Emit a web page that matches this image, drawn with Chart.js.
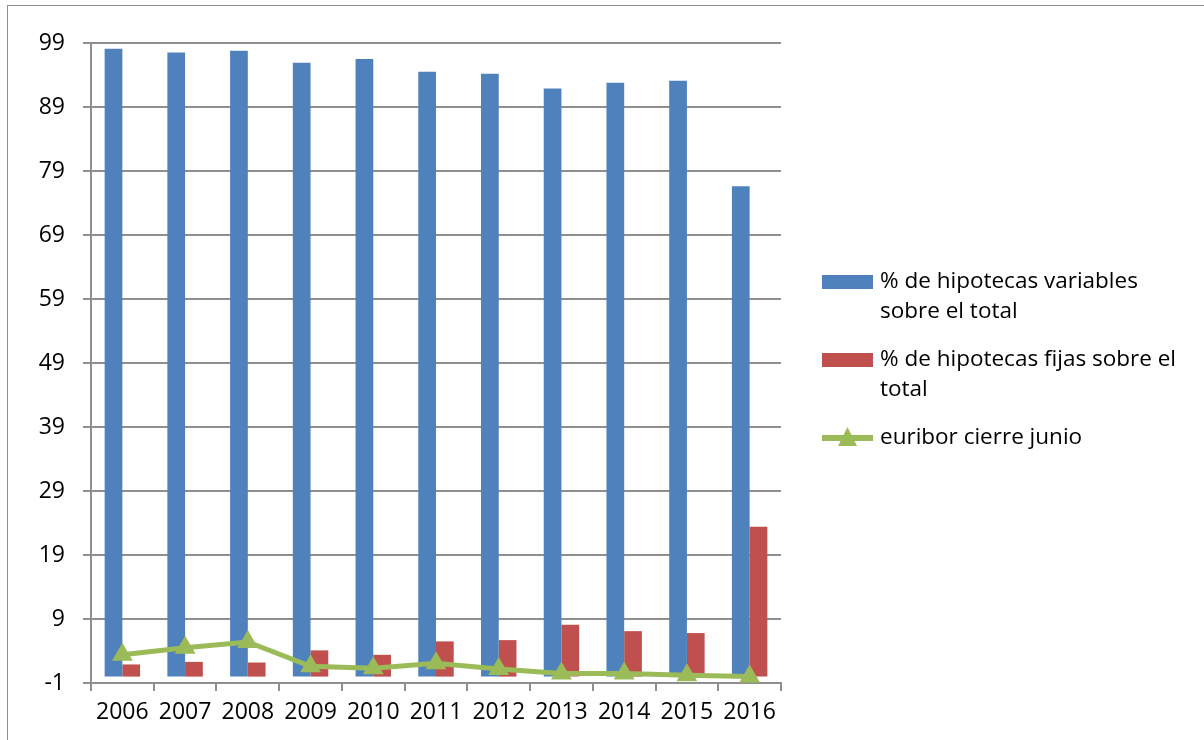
<!DOCTYPE html>
<html>
<head>
<meta charset="utf-8">
<script src="https://cdn.jsdelivr.net/npm/chart.js@4.4.1/dist/chart.umd.min.js"></script>
<style>
  html, body { margin: 0; padding: 0; background: #fff; }
</style>
</head>
<body>
<canvas id="chart" width="1204" height="740"></canvas>
<script>
const years = ["2006", "2007", "2008", "2009", "2010", "2011", "2012", "2013", "2014", "2015", "2016"];
const variables = [98.1, 97.5, 97.8, 95.9, 96.5, 94.5, 94.2, 91.9, 92.8, 93.1, 76.6];
const fijas = [1.9, 2.3, 2.2, 4.1, 3.4, 5.5, 5.7, 8.1, 7.1, 6.8, 23.4];
const euribor = [3.4, 4.5, 5.4, 1.6, 1.3, 2.1, 1.2, 0.5, 0.5, 0.2, 0.0];
const yTicks = [-1, 9, 19, 29, 39, 49, 59, 69, 79, 89, 99];

const gridGray = "#8f8f8f";
const fontFamily = "'Open Sans', sans-serif";

// split a legend label into lines that fit maxWidth
function wrapText(ctx, text, maxWidth) {
  const words = text.split(" ");
  const lines = [];
  let line = "";
  words.forEach(w => {
    const test = line ? line + " " + w : w;
    if (ctx.measureText(test).width > maxWidth && line) {
      lines.push(line);
      line = w;
    } else {
      line = test;
    }
  });
  if (line) lines.push(line);
  return lines;
}

const sideLegend = {
  id: "sideLegend",
  beforeDraw(chart) {
    const ctx = chart.ctx;
    ctx.save();
    ctx.strokeStyle = gridGray;
    ctx.lineWidth = 1;
    ctx.strokeRect(7.5, 5.5, 1300, 800);
    ctx.restore();
  },
  afterDraw(chart) {
    const ctx = chart.ctx;
    ctx.save();
    ctx.font = "22.5px " + fontFamily;
    ctx.textBaseline = "middle";
    let y = 282;
    chart.data.datasets.forEach(ds => {
      const lines = wrapText(ctx, ds.label, 300);
      if (ds.type === "line") {
        ctx.fillStyle = ds.borderColor;
        ctx.fillRect(822, y - 3, 51, 6);
        ctx.beginPath();
        ctx.moveTo(847.5, y - 11);
        ctx.lineTo(857, y + 8);
        ctx.lineTo(838, y + 8);
        ctx.closePath();
        ctx.fill();
      } else {
        ctx.fillStyle = ds.backgroundColor;
        ctx.fillRect(822, y - 7, 51, 14);
      }
      ctx.fillStyle = "#000";
      lines.forEach((l, i) => ctx.fillText(l, 880, y + i * 30));
      y += lines.length * 30 + 18;
    });
    ctx.restore();
  }
};

Chart.defaults.font.family = fontFamily;
Chart.defaults.font.size = 23;
Chart.defaults.color = "#000";

new Chart(document.getElementById("chart").getContext("2d"), {
  type: "bar",
  data: {
    labels: years,
    datasets: [
      {
        label: "% de hipotecas variables sobre el total",
        data: variables,
        backgroundColor: "#4F81BD",
        order: 1
      },
      {
        label: "% de hipotecas fijas sobre el total",
        data: fijas,
        backgroundColor: "#C0504D",
        order: 1
      },
      {
        type: "line",
        label: "euribor cierre junio",
        data: euribor,
        borderColor: "#9BBB59",
        backgroundColor: "#9BBB59",
        borderWidth: 5,
        pointStyle: "triangle",
        pointRadius: 12,
        pointBackgroundColor: "#9BBB59",
        pointBorderColor: "#9BBB59",
        pointBorderWidth: 0,
        tension: 0,
        order: 0
      }
    ]
  },
  options: {
    responsive: false,
    animation: false,
    devicePixelRatio: 1,
    layout: { padding: { left: 0, top: 43, right: 423, bottom: 0 } },
    datasets: {
      bar: { categoryPercentage: 0.565, barPercentage: 1 }
    },
    plugins: {
      legend: { display: false },
      tooltip: { enabled: false }
    },
    scales: {
      x: {
        grid: {
          offset: true,
          drawOnChartArea: false,
          drawTicks: true,
          tickLength: 8,
          color: gridGray,
          lineWidth: 2
        },
        border: { color: gridGray, width: 2 },
        ticks: { padding: 8, maxRotation: 0, autoSkip: false },
        afterFit(s) { s.height = 57; }
      },
      y: {
        min: -1,
        max: 99,
        afterBuildTicks(s) { s.ticks = yTicks.map(v => ({ value: v })); },
        grid: { color: gridGray, lineWidth: 2, tickLength: 8 },
        border: { color: gridGray, width: 2 },
        ticks: { padding: 18 },
        afterFit(s) { s.width = 91; }
      }
    }
  },
  plugins: [sideLegend]
});
</script>
</body>
</html>
